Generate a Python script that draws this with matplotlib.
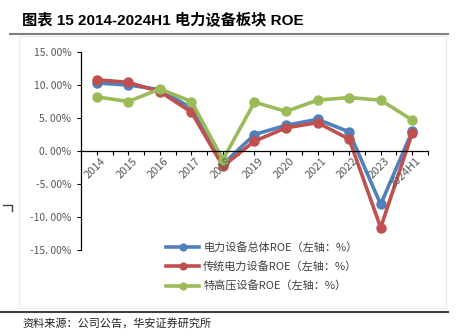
import matplotlib
matplotlib.use("Agg")
import matplotlib.pyplot as plt
from matplotlib.lines import Line2D
from matplotlib.patches import Rectangle
import numpy as np

plt.rcParams["font.family"] = ["Noto Sans CJK SC", "DejaVu Sans"]

years = ["2014", "2015", "2016", "2017", "2018", "2019", "2020",
         "2021", "2022", "2023", "2024H1"]
roe_total = [10.3, 10.0, 9.3, 6.5, -2.0, 2.5, 3.9, 4.8, 2.9, -8.1, 3.0]
roe_traditional = [10.8, 10.4, 9.0, 5.9, -2.3, 1.5, 3.5, 4.3, 1.8, -11.6, 2.7]
roe_uhv = [8.2, 7.5, 9.4, 7.5, -1.3, 7.4, 6.0, 7.7, 8.1, 7.7, 4.7]

series_names = ["电力设备总体ROE（左轴：%）", "传统电力设备ROE（左轴：%）",
                "特高压设备ROE（左轴：%）"]
colors = ["#4F81BD", "#C0504D", "#9BBB59"]

W, H = 464, 336
fig = plt.figure(figsize=(W / 100, H / 100), dpi=100)

# frame, rules, title, source
fig.add_artist(Rectangle((19 / W, 1 - 308 / H), 427 / W, 272 / H,
                         transform=fig.transFigure, fill=False,
                         edgecolor="#ECECE2", linewidth=1.0))
fig.add_artist(Line2D([10 / W, 448 / W], [1 - 33.5 / H] * 2,
                      transform=fig.transFigure, color="#7F7F7F", lw=1.5))
fig.add_artist(Line2D([0, 448 / W], [1 - 311.5 / H] * 2,
                      transform=fig.transFigure, color="#404040", lw=1.5))
fig.add_artist(Line2D([3 / W, 12 / W, 12 / W],
                      [1 - 205 / H, 1 - 205 / H, 1 - 211 / H],
                      transform=fig.transFigure, color="#404040", lw=1.0))
fig.text(22 / W, 1 - 20 / H, "图表 15 2014-2024H1 电力设备板块 ROE",
         family=["Liberation Sans", "Noto Sans CJK SC"], fontweight="bold",
         fontsize=11, va="center", ha="left", color="#000000")
fig.text(22 / W, 1 - 323 / H, "资料来源：公司公告，华安证券研究所",
         fontsize=8, va="center", ha="left", color="#222222")

ax = fig.add_axes([81 / W, 1 - 250 / H, 347 / W, 198 / H])
x = np.arange(len(years))
for vals, name, c in zip([roe_total, roe_traditional, roe_uhv], series_names, colors):
    ax.plot(x, vals, color=c, lw=2.6, marker="o", markersize=6.5, label=name)

ax.set_xlim(-0.5, len(years) - 0.5)
ax.set_ylim(-15, 15)
ax.set_yticks(np.arange(-15, 16, 5))
ax.set_yticklabels([f"{v:.2f}".replace(".", ". ") + "%" for v in np.arange(-15, 16, 5)])
ax.tick_params(axis="y", direction="out", length=3, width=0.8, colors="#000000",
               labelcolor="#595959", labelsize=7.5, pad=4)

for s in ["top", "right"]:
    ax.spines[s].set_visible(False)
ax.spines["left"].set_linewidth(0.9)
ax.spines["bottom"].set_position(("data", 0))
ax.spines["bottom"].set_linewidth(0.9)

ax.set_xticks(np.arange(-0.5, len(years), 0.5))
ax.set_xticklabels([""] * len(ax.get_xticks()))
ax.tick_params(axis="x", direction="out", length=3, width=0.8)
for i, lab in enumerate(years):
    ax.text(i + 0.12, -0.7, lab, rotation=45, ha="right", va="top",
            fontsize=8, color="#595959", rotation_mode="anchor")

leg = fig.legend(*ax.get_legend_handles_labels(), loc="upper left",
                 bbox_to_anchor=(166 / W, 1 - 242 / H), frameon=False,
                 fontsize=8, handlelength=3.0, handletextpad=0.35,
                 labelspacing=0.75, borderaxespad=0, borderpad=0,
                 markerscale=0.75)
for t in leg.get_texts():
    t.set_color("#404040")

fig.savefig("out.png", dpi=100)
